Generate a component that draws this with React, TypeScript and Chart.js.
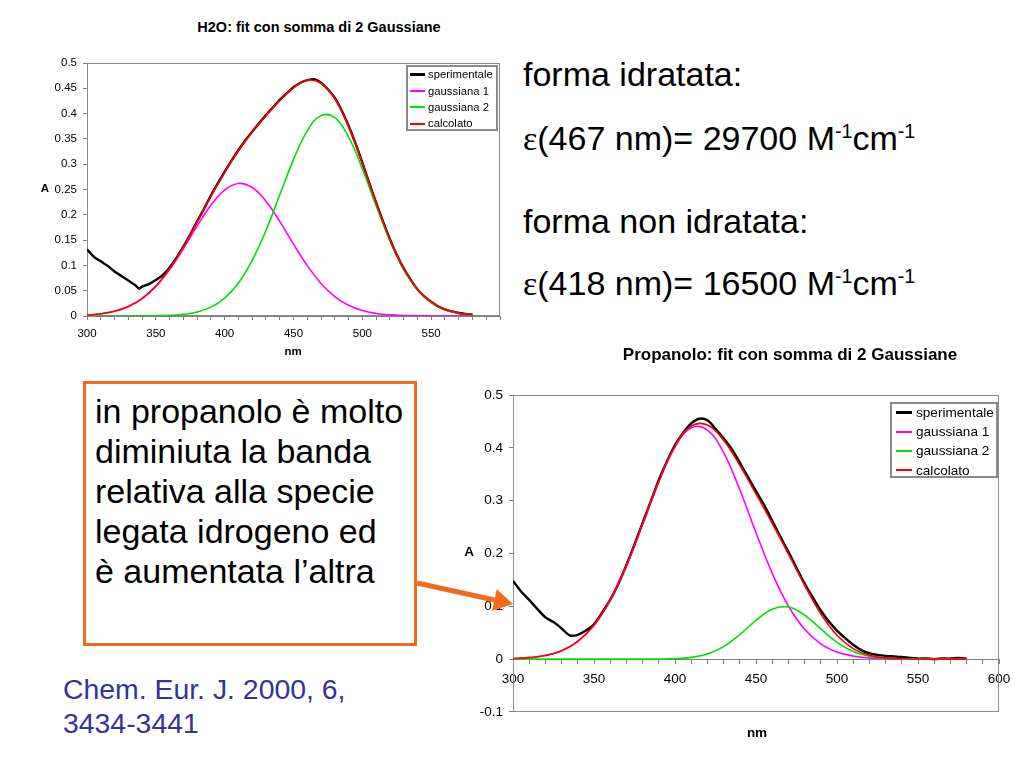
import React, { useEffect, useRef } from "react";
import { Chart, registerables } from "chart.js";

Chart.register(...registerables);

const FONT = '"Liberation Sans", Arial, Helvetica, sans-serif';

// ---------------- data ----------------
const fitNm = [300, 310, 320, 330, 340, 350, 360, 370, 380, 390, 400, 410, 420, 430, 440, 450, 460, 470, 480, 490, 500, 510, 520, 530, 540, 550, 560, 570, 580];

// H2O
const h2oGauss1 = [0.0018, 0.0043, 0.0093, 0.0186, 0.0343, 0.0585, 0.0918, 0.133, 0.178, 0.219, 0.249, 0.262, 0.254, 0.227, 0.187, 0.142, 0.0995, 0.0644, 0.0384, 0.0211, 0.0107, 0.005, 0.0022, 0.0009, 0.0003, 0.0001, 0, 0, 0];
const h2oGauss2 = [0, 0, 0, 0.0001, 0.0002, 0.0004, 0.0013, 0.0033, 0.008, 0.0176, 0.0354, 0.0652, 0.11, 0.169, 0.239, 0.309, 0.366, 0.396, 0.392, 0.354, 0.291, 0.218, 0.149, 0.0928, 0.0526, 0.0272, 0.0128, 0.0055, 0.0021];
const h2oCalc = [0.0018, 0.0043, 0.0094, 0.0187, 0.0345, 0.0589, 0.0931, 0.136, 0.186, 0.237, 0.284, 0.327, 0.364, 0.396, 0.426, 0.451, 0.466, 0.46, 0.43, 0.375, 0.302, 0.223, 0.151, 0.0937, 0.0529, 0.0273, 0.0128, 0.0055, 0.0021];
const h2oExpNm = [300, 305, 310, 315, 320, 325, 330, 335, 338, 340, 345, 350, 355, 360, 365, 370, 375, 380, 385, 390, 395, 400, 405, 410, 415, 420, 425, 430, 435, 440, 445, 450, 455, 460, 465, 470, 475, 480, 485, 490, 495, 500, 505, 510, 515, 520, 525, 530, 535, 540, 545, 550, 555, 560, 565, 570, 575, 580];
const h2oExp = [0.132, 0.117, 0.108, 0.099, 0.088, 0.079, 0.07, 0.061, 0.054, 0.058, 0.063, 0.071, 0.081, 0.096, 0.115, 0.137, 0.161, 0.187, 0.212, 0.238, 0.262, 0.285, 0.307, 0.328, 0.347, 0.364, 0.381, 0.397, 0.412, 0.427, 0.44, 0.452, 0.461, 0.466, 0.468, 0.461, 0.448, 0.431, 0.406, 0.376, 0.341, 0.303, 0.263, 0.224, 0.187, 0.152, 0.121, 0.094, 0.072, 0.053, 0.039, 0.028, 0.019, 0.013, 0.009, 0.006, 0.004, 0.003];

// Propanolo
const propGauss1 = [0.001, 0.0027, 0.0068, 0.0158, 0.0333, 0.0639, 0.1115, 0.1769, 0.2557, 0.336, 0.402, 0.4377, 0.4335, 0.3908, 0.3206, 0.2393, 0.1626, 0.1005, 0.0565, 0.0289, 0.0135, 0.0057, 0.0022, 0.0008, 0.0002, 0, 0, 0, 0];
const propGauss2 = [0, 0, 0, 0, 0, 0, 0, 0, 0, 0.0002, 0.0009, 0.0033, 0.0097, 0.0236, 0.0462, 0.0734, 0.0945, 0.0986, 0.0833, 0.057, 0.0316, 0.0142, 0.0052, 0.0015, 0.0004, 0.0001, 0, 0, 0];
const propCalc = [0.001, 0.0027, 0.0068, 0.0158, 0.0333, 0.0639, 0.1115, 0.1769, 0.2557, 0.3362, 0.4029, 0.441, 0.4432, 0.4144, 0.3668, 0.3127, 0.2571, 0.1991, 0.1398, 0.0859, 0.0451, 0.0199, 0.0074, 0.0023, 0.0006, 0.0001, 0, 0, 0];
const propExpNm = [300, 305, 310, 315, 320, 325, 330, 335, 340, 345, 350, 355, 360, 365, 370, 375, 380, 385, 390, 395, 400, 405, 410, 415, 420, 425, 430, 435, 440, 445, 450, 455, 460, 465, 470, 475, 480, 485, 490, 495, 500, 505, 510, 515, 520, 525, 530, 535, 540, 545, 550, 555, 560, 565, 570, 575, 580];
const propExp = [0.148, 0.128, 0.112, 0.095, 0.079, 0.07, 0.058, 0.045, 0.046, 0.054, 0.066, 0.088, 0.112, 0.142, 0.178, 0.217, 0.258, 0.298, 0.339, 0.374, 0.405, 0.428, 0.446, 0.455, 0.452, 0.436, 0.418, 0.398, 0.372, 0.345, 0.318, 0.292, 0.262, 0.232, 0.203, 0.173, 0.143, 0.117, 0.092, 0.071, 0.054, 0.04, 0.027, 0.017, 0.011, 0.008, 0.006, 0.005, 0.004, 0.002, 0.001, 0.001, 0, 0.001, 0.001, 0.002, 0.001];

// tick labels
const h2oXLabels = [300, 350, 400, 450, 500, 550];
const propXLabels = [300, 350, 400, 450, 500, 550, 600];

// legend
const legendLabels = ["sperimentale", "gaussiana 1", "gaussiana 2", "calcolato"];
const seriesColors = ["#000000", "#ff00ff", "#00e000", "#ff0000"];
const seriesWidths = [2.4, 1.6, 1.6, 1.6];

// ---------------- helpers ----------------
const pts = (xs: number[], ys: number[]) => xs.map((x, i) => ({ x, y: ys[i] }));
const fmt = (v: number) => String(parseFloat(Number(v).toFixed(2)));

const framePlugin = {
  id: "frame",
  beforeDatasetsDraw(chart: any) {
    const { ctx, chartArea: a } = chart;
    ctx.save();
    ctx.strokeStyle = "#8a8a8a";
    ctx.lineWidth = 1;
    const l = Math.round(a.left) + 0.5;
    const t = Math.round(a.top) + 0.5;
    const r = Math.round(a.right) - 0.5;
    const b = Math.round(a.bottom) - 0.5;
    ctx.strokeRect(l, t, r - l, b - t);
    ctx.restore();
  },
};

type Cfg = {
  exp: { x: number; y: number }[];
  g1: { x: number; y: number }[];
  g2: { x: number; y: number }[];
  calc: { x: number; y: number }[];
  xLabels: number[];
  yMin: number;
  yMax: number;
  yStep: number;
  fontSize: number;
  xAtZero: boolean;
  yWidth: number;
  xHeight: number;
  padding: { left: number; right: number; top: number; bottom: number };
  xPad: number;
};

function makeConfig(c: Cfg): any {
  const line = (data: any, idx: number, tension: number) => ({
    data,
    borderColor: seriesColors[idx],
    borderWidth: seriesWidths[idx],
    pointRadius: 0,
    fill: false,
    tension,
  });
  const gridCommon = {
    display: true,
    drawOnChartArea: false,
    drawTicks: true,
    tickLength: 4,
    color: "#808080",
    lineWidth: 1,
  };
  return {
    type: "line",
    data: {
      datasets: [
        line(c.calc, 3, 0.4),
        line(c.g2, 2, 0.4),
        line(c.g1, 1, 0.4),
        line(c.exp, 0, 0.3),
      ],
    },
    options: {
      animation: false,
      responsive: false,
      maintainAspectRatio: false,
      layout: { padding: c.padding },
      plugins: {
        legend: { display: false },
        title: { display: false },
        tooltip: { enabled: false },
      },
      scales: {
        x: {
          type: "linear",
          min: 300,
          max: 600,
          position: c.xAtZero ? { y: 0 } : "bottom",
          grid: gridCommon,
          border: { display: true, color: "#808080", width: 1 },
          ticks: {
            stepSize: 10,
            autoSkip: false,
            maxRotation: 0,
            padding: c.xPad,
            color: "#000",
            font: { family: FONT, size: c.fontSize },
            callback: (v: any) => (c.xLabels.includes(Math.round(Number(v))) ? String(Math.round(Number(v))) : ""),
          },
          afterFit: (s: any) => {
            s.height = c.xHeight;
          },
        },
        y: {
          type: "linear",
          min: c.yMin,
          max: c.yMax,
          grid: gridCommon,
          border: { display: true, color: "#808080", width: 1 },
          ticks: {
            stepSize: c.yStep,
            padding: 6,
            color: "#000",
            font: { family: FONT, size: c.fontSize },
            callback: (v: any) => fmt(v),
          },
          afterFit: (s: any) => {
            s.width = c.yWidth;
          },
        },
      },
    },
    plugins: [framePlugin],
  };
}

function ChartCanvas({ config, left, top, width, height }: any) {
  const ref = useRef<HTMLCanvasElement>(null);
  useEffect(() => {
    const chart = new Chart(ref.current as HTMLCanvasElement, config);
    return () => chart.destroy();
  }, []);
  return (
    <canvas
      ref={ref}
      width={width}
      height={height}
      style={{ position: "absolute", left, top, width, height }}
    />
  );
}

function Label({ x, y, size, bold, children }: any) {
  return (
    <div
      style={{
        position: "absolute",
        left: x,
        top: y,
        transform: "translate(-50%, -50%)",
        fontFamily: FONT,
        fontSize: size,
        fontWeight: bold ? "bold" : "normal",
        lineHeight: 1,
        whiteSpace: "nowrap",
        color: "#000",
      }}
    >
      {children}
    </div>
  );
}

function Legend({ left, top, width, height, firstCenter, rowH, lineX, lineW, textX, fontSize }: any) {
  return (
    <div
      style={{
        position: "absolute",
        left,
        top,
        width,
        height,
        boxSizing: "border-box",
        border: "2px solid #8a8a8a",
        background: "#fff",
      }}
    >
      {legendLabels.map((lab, i) => {
        const cy = firstCenter + i * rowH - 2;
        const th = i === 0 ? 3 : 2;
        return (
          <React.Fragment key={lab}>
            <div
              style={{
                position: "absolute",
                left: lineX - 2,
                top: cy - th / 2,
                width: lineW,
                height: th,
                background: seriesColors[i],
              }}
            />
            <div
              style={{
                position: "absolute",
                left: textX - 2,
                top: cy - rowH / 2,
                height: rowH,
                lineHeight: rowH + "px",
                fontFamily: FONT,
                fontSize,
                color: "#000",
                whiteSpace: "nowrap",
              }}
            >
              {lab}
            </div>
          </React.Fragment>
        );
      })}
    </div>
  );
}

const Sup = ({ children }: any) => (
  <span style={{ fontSize: "0.58em", position: "relative", top: "-0.62em" }}>{children}</span>
);
const Eps = () => <span style={{ fontFamily: '"Liberation Serif", "Times New Roman", serif' }}>ε</span>;

const bigText: React.CSSProperties = {
  position: "absolute",
  fontFamily: FONT,
  fontSize: 34,
  lineHeight: "34px",
  whiteSpace: "nowrap",
  color: "#000",
};

export default function App() {
  const h2oCfg = makeConfig({
    exp: pts(h2oExpNm, h2oExp),
    g1: pts(fitNm, h2oGauss1),
    g2: pts(fitNm, h2oGauss2),
    calc: pts(fitNm, h2oCalc),
    xLabels: h2oXLabels,
    yMin: 0,
    yMax: 0.5,
    yStep: 0.05,
    fontSize: 11.5,
    xAtZero: false,
    yWidth: 47,
    xHeight: 30,
    padding: { left: 0, right: 10, top: 13, bottom: 4 },
    xPad: 7,
  });
  const propCfg = makeConfig({
    exp: pts(propExpNm, propExp),
    g1: pts(fitNm, propGauss1),
    g2: pts(fitNm, propGauss2),
    calc: pts(fitNm, propCalc),
    xLabels: propXLabels,
    yMin: -0.1,
    yMax: 0.5,
    yStep: 0.1,
    fontSize: 13.5,
    xAtZero: true,
    yWidth: 43,
    xHeight: 30,
    padding: { left: 0, right: 21, top: 15, bottom: 9 },
    xPad: 8,
  });

  // arrow geometry
  const ax0 = 417, ay0 = 583, ax1 = 513, ay1 = 604;
  const dx = ax1 - ax0, dy = ay1 - ay0;
  const len = Math.hypot(dx, dy);
  const ux = dx / len, uy = dy / len;
  const nx = -uy, ny = ux;
  const headL = 19, headW = 11;
  const bx = ax1 - headL * ux, by = ay1 - headL * uy;

  return (
    <div
      style={{
        position: "absolute",
        left: 0,
        top: 0,
        width: 1024,
        height: 768,
        background: "#fff",
        overflow: "hidden",
      }}
    >
      {/* top chart */}
      <Label x={319} y={27} size={14.5} bold>
        H2O: fit con somma di 2 Gaussiane
      </Label>
      <ChartCanvas config={h2oCfg} left={40} top={50} width={470} height={300} />
      <Label x={45} y={189} size={11.5} bold>A</Label>
      <Label x={293} y={352} size={11.5} bold>nm</Label>
      <Legend left={406} top={65} width={92} height={66} firstCenter={9.3} rowH={16.4} lineX={4} lineW={15} textX={22} fontSize={11.3} />

      {/* bottom chart */}
      <Label x={790} y={354} size={17} bold>
        Propanolo: fit con somma di 2 Gaussiane
      </Label>
      <ChartCanvas config={propCfg} left={470} top={380} width={550} height={346} />
      <Label x={469} y={552} size={13.5} bold>A</Label>
      <Label x={757} y={733} size={13.5} bold>nm</Label>
      <Legend left={890} top={402} width={108} height={76} firstCenter={10.3} rowH={19.3} lineX={6} lineW={16} textX={26} fontSize={13.6} />

      {/* right texts */}
      <div style={{ ...bigText, left: 523, top: 57 }}>forma idratata:</div>
      <div style={{ ...bigText, left: 523, top: 121 }}>
        <Eps />(467 nm)= 29700 M<Sup>-1</Sup>cm<Sup>-1</Sup>
      </div>
      <div style={{ ...bigText, left: 523, top: 204 }}>forma non idratata:</div>
      <div style={{ ...bigText, left: 523, top: 266 }}>
        <Eps />(418 nm)= 16500 M<Sup>-1</Sup>cm<Sup>-1</Sup>
      </div>

      {/* orange box */}
      <div
        style={{
          position: "absolute",
          left: 83,
          top: 381,
          width: 334,
          height: 265,
          boxSizing: "border-box",
          border: "3px solid #f26a1b",
          paddingLeft: 9,
          paddingTop: 7,
          fontFamily: FONT,
          fontSize: 34,
          lineHeight: "40px",
          color: "#000",
          whiteSpace: "nowrap",
        }}
      >
        <div>in propanolo è molto</div>
        <div>diminiuta la banda</div>
        <div>relativa alla specie</div>
        <div>legata idrogeno ed</div>
        <div>è aumentata l’altra</div>
      </div>

      {/* reference */}
      <div
        style={{
          position: "absolute",
          left: 63,
          top: 672,
          fontFamily: FONT,
          fontSize: 28.4,
          lineHeight: "34px",
          color: "#333399",
          whiteSpace: "nowrap",
        }}
      >
        <div>Chem. Eur. J. 2000, 6,</div>
        <div>3434-3441</div>
      </div>

      {/* arrow */}
      <svg
        width={1024}
        height={768}
        style={{ position: "absolute", left: 0, top: 0, pointerEvents: "none" }}
      >
        <line x1={ax0} y1={ay0} x2={bx} y2={by} stroke="#f26a1b" strokeWidth={5} />
        <polygon
          points={`${ax1},${ay1} ${bx + headW * nx},${by + headW * ny} ${bx - headW * nx},${by - headW * ny}`}
          fill="#f26a1b"
        />
      </svg>
    </div>
  );
}
